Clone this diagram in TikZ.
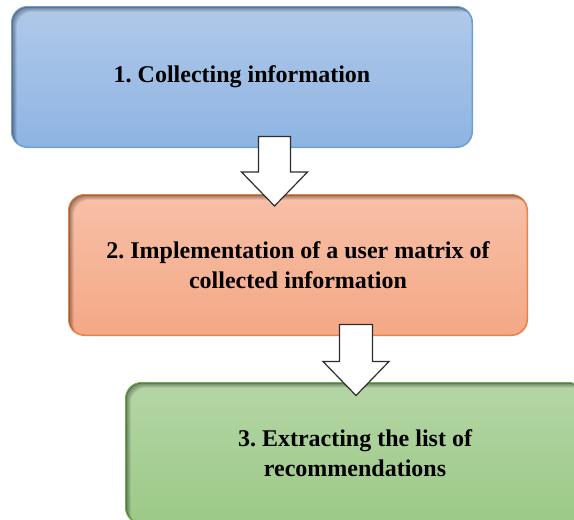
\documentclass[tikz,border=0pt]{standalone}
\usepackage{fontspec}
\setmainfont{Liberation Serif}
\frenchspacing
\usetikzlibrary{calc}
\definecolor{bluetop}{RGB}{176,201,233}
\definecolor{bluebot}{RGB}{142,180,227}
\definecolor{blueline}{RGB}{110,160,215}
\definecolor{orgtop}{RGB}{247,192,167}
\definecolor{orgbot}{RGB}{244,168,134}
\definecolor{orgline}{RGB}{237,130,70}
\definecolor{grntop}{RGB}{180,214,165}
\definecolor{grnbot}{RGB}{156,201,135}
\definecolor{grnline}{RGB}{115,172,80}
\definecolor{arrline}{RGB}{45,45,45}
\newcommand\myinshadow[1]{%
  \begin{scope}
    \clip[rounded corners=16pt] (#1.south west) rectangle (#1.north east);
    \foreach \k in {1,2,3,4,5}{
      \fill[black, opacity=0.09, even odd rule, rounded corners=16pt]
        ($(#1.south west)+(-30,30)$) rectangle ($(#1.north east)+(30,-30)$)
        ($(#1.south west)+(\k,\k)$) rectangle ($(#1.north east)+(\k,\k)$);
    }
  \end{scope}}
\begin{document}
\begin{tikzpicture}[x=1pt,y=-1pt,
  stepbox/.style={rectangle, rounded corners=16pt, minimum height=140pt,
    align=center, inner sep=0pt, line width=1pt},
  steptext/.style={inner sep=0pt, align=center, font=\fontsize{24}{30}\selectfont\bfseries},
  boxline/.style={draw, line width=1pt, rounded corners=16pt},
  blockarrow/.style={draw=arrline, fill=white, line width=1.2pt, line join=miter}]
\useasboundingbox (0,0) rectangle (574,520);
\begin{scope}
\clip (0,0) rectangle (574,520);
% box 1
\node[stepbox, minimum width=460pt, top color=bluetop, bottom color=bluebot, draw=blueline] (b1) at (242,77) {};
\myinshadow{b1}
\draw[boxline, blueline] (b1.south west) rectangle (b1.north east);
\node[steptext] (t1) at (b1.center) {1. Collecting information};
% box 2
\node[stepbox, minimum width=458pt, top color=orgtop, bottom color=orgbot, draw=orgline] (b2) at (298,265) {};
\myinshadow{b2}
\draw[boxline, orgline] (b2.south west) rectangle (b2.north east);
\node[steptext] (t2) at (b2.center) {2. Implementation of a user matrix of\\collected information};
% box 3
\node[stepbox, minimum width=458pt, top color=grntop, bottom color=grnbot, draw=grnline] (b3) at (355,453) {};
\myinshadow{b3}
\draw[boxline, grnline] (b3.south west) rectangle (b3.north east);
\node[steptext] (t3) at (b3.center) {3. Extracting the list of\\recommendations};
\end{scope}
% arrows
\coordinate (a1s) at ($(b1.south)+(32.5,-11)$);
\coordinate (a1e) at ($(b2.north)+(-23.5,11.5)$);
\draw[blockarrow] ($(a1s)+(-16,0)$) -- ($(a1s)+(16,0)$) -- ($(a1e)+(16,-34)$) -- ($(a1e)+(33,-34)$) -- (a1e) -- ($(a1e)+(-33,-34)$) -- ($(a1e)+(-16,-34)$) -- cycle;
\coordinate (a2s) at ($(b2.south)+(58,-11)$);
\coordinate (a2e) at ($(b3.north)+(1,13)$);
\draw[blockarrow] ($(a2s)+(-16.5,0)$) -- ($(a2s)+(16.5,0)$) -- ($(a2e)+(16.5,-34)$) -- ($(a2e)+(33,-34)$) -- (a2e) -- ($(a2e)+(-33,-34)$) -- ($(a2e)+(-16.5,-34)$) -- cycle;
\end{tikzpicture}
\end{document}
